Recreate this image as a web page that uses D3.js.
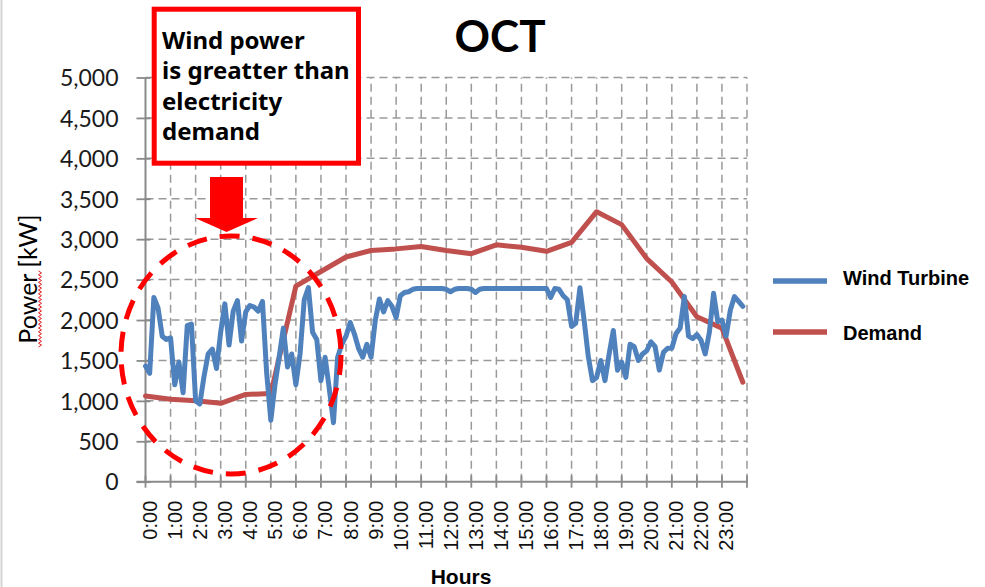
<!DOCTYPE html>
<html>
<head>
<meta charset="utf-8">
<script src="https://cdn.jsdelivr.net/npm/d3@7"></script>
<style>
  html, body { margin: 0; padding: 0; background: #ffffff; }
  svg { display: block; }
</style>
</head>
<body>
<svg id="chart" width="985" height="587"></svg>
<script>
// ---------- data ----------
const hourLabels = ["0:00","1:00","2:00","3:00","4:00","5:00","6:00","7:00","8:00","9:00","10:00","11:00",
  "12:00","13:00","14:00","15:00","16:00","17:00","18:00","19:00","20:00","21:00","22:00","23:00"];

// wind turbine output, 10-minute steps (0:00 .. 23:50), kW
const windPower = [
  1430,1340,2280,2150,1800,1760,1780,1200,1480,1100,1930,1950,
  1000,960,1300,1580,1640,1400,1850,2200,1690,2110,2240,1740,
  2100,2180,2160,2110,2230,1350,760,1200,1540,1900,1420,1580,
  1200,1580,2250,2400,1850,1760,1250,1540,1150,730,1540,1700,
  1800,1970,1830,1650,1540,1700,1540,1990,2260,2100,2240,2170,
  2030,2300,2340,2350,2380,2390,2390,2390,2390,2390,2390,2390,
  2380,2350,2380,2390,2390,2390,2380,2340,2380,2390,2390,2390,
  2390,2390,2390,2390,2390,2390,2390,2390,2390,2390,2390,2390,
  2390,2280,2390,2380,2300,2250,1920,1960,2400,2000,1550,1250,
  1290,1500,1250,1580,1870,1380,1480,1290,1700,1670,1500,1580,
  1620,1730,1670,1380,1600,1650,1650,1830,1900,2290,1800,1770,
  1820,1750,1580,1850,2330,1980,2000,1800,2120,2290,2230,2170
];

// electricity demand, hourly (last point 23:50), kW
const demandHours  = [0,1,2,3,4,5,6,7,8,9,10,11,12,13,14,15,16,17,18,19,20,21,22,23,23.8333];
const demandValues = [1060,1020,1000,970,1080,1090,2420,2600,2780,2860,2880,2910,2860,2820,2930,2900,2850,2960,3340,3180,2760,2470,2040,1900,1230];

const yTicks = [0,500,1000,1500,2000,2500,3000,3500,4000,4500,5000];
const seriesNames = ["Wind Turbine","Demand"];
const seriesColors = ["#4F81BD","#C0504D"];
const annotationLines = ["Wind power","is greatter than","electricity","demand"];

// ---------- layout ----------
const svg = d3.select("#chart");
const X0 = 145.5, X1 = 747, Y0 = 481.7, Y1 = 77.5;
const x = d3.scaleLinear().domain([0,144]).range([X0, X1]);   // 10-minute steps
const y = d3.scaleLinear().domain([0,5000]).range([Y0, Y1]);

// frame line at left edge
svg.append("line").attr("x1",1.5).attr("x2",1.5).attr("y1",0).attr("y2",587)
  .attr("stroke","#d4d4d4").attr("stroke-width",2);

// grid
const grid = svg.append("g");
grid.selectAll("line.h").data(yTicks.slice(1)).enter().append("line")
  .attr("x1",X0).attr("x2",X1).attr("y1",d=>y(d)).attr("y2",d=>y(d))
  .attr("stroke","#9a9a9a").attr("stroke-width",1.5).attr("stroke-dasharray","8,5");
grid.selectAll("line.v").data(d3.range(1,25)).enter().append("line")
  .attr("x1",d=>x(d*6)).attr("x2",d=>x(d*6)).attr("y1",Y0).attr("y2",Y1)
  .attr("stroke","#9a9a9a").attr("stroke-width",1.5).attr("stroke-dasharray","8,5");

// y axis
const yAxis = d3.axisLeft(y).tickValues(yTicks).tickFormat(d3.format(",")).tickSize(0).tickPadding(0);
const gy = svg.append("g").attr("transform",`translate(${X0},0)`).call(yAxis);
gy.select(".domain").remove();
gy.selectAll("text").attr("x",-27).attr("dy","0.36em")
  .style("font-family","Lato, 'Open Sans', sans-serif").style("font-size","23px").attr("fill","#1a1a1a");
gy.selectAll(".tick").append("line").attr("x1",-9).attr("x2",5).attr("stroke","#8a8a8a").attr("stroke-width",1.8);
svg.append("line").attr("x1",X0).attr("x2",X0).attr("y1",Y1).attr("y2",Y0)
  .attr("stroke","#8a8a8a").attr("stroke-width",2);

// x axis
const xAxis = d3.axisBottom(x).tickValues(d3.range(0,24).map(h=>h*6))
  .tickFormat((d,i)=>hourLabels[i]).tickSize(0).tickPadding(0);
const gx = svg.append("g").attr("transform",`translate(0,${Y0})`).call(xAxis);
gx.select(".domain").remove();
gx.selectAll("text").attr("text-anchor","end").attr("y",0).attr("dy",0)
  .attr("transform","translate(11,19) rotate(-90)")
  .style("font-family","'Liberation Sans', Arial, sans-serif").style("font-size","20px").attr("fill","#111");
svg.append("g").selectAll("line").data(d3.range(0,25)).enter().append("line")
  .attr("x1",d=>x(d*6)).attr("x2",d=>x(d*6)).attr("y1",Y0-6).attr("y2",Y0+6)
  .attr("stroke","#8a8a8a").attr("stroke-width",1.8);
svg.append("line").attr("x1",X0-9).attr("x2",X1).attr("y1",Y0).attr("y2",Y0)
  .attr("stroke","#8a8a8a").attr("stroke-width",2);

// series
const line = d3.line().curve(d3.curveLinear);
svg.append("path")
  .attr("d", line(demandHours.map((h,i)=>[x(h*6), y(demandValues[i])])))
  .attr("fill","none").attr("stroke",seriesColors[1]).attr("stroke-width",5)
  .attr("stroke-linejoin","round").attr("stroke-linecap","round");
svg.append("path")
  .attr("d", line(windPower.map((v,i)=>[x(i), y(v)])))
  .attr("fill","none").attr("stroke",seriesColors[0]).attr("stroke-width",5)
  .attr("stroke-linejoin","round").attr("stroke-linecap","round");

// titles
svg.append("text").attr("x",500).attr("y",52).attr("text-anchor","middle")
  .style("font-family","Lato, sans-serif").style("font-weight","700").style("font-size","44px")
  .attr("fill","#000").text("OCT");
svg.append("text").attr("transform","translate(37,279) rotate(-90)").attr("text-anchor","middle")
  .style("font-family","Lato, sans-serif").style("font-size","25px").attr("fill","#000").text("Power [kW]");
// spell-check squiggle under "Power"
{
  const pts = [];
  for (let k = 0; k <= 40; k++) pts.push([40 + (k % 2 ? 1.5 : -1.5), 347 - k * 1.9]);
  svg.append("path").attr("d", d3.line()(pts)).attr("fill","none").attr("stroke","#e02020").attr("stroke-width",1);
}
svg.append("text").attr("x",461).attr("y",584).attr("text-anchor","middle")
  .style("font-family","'Liberation Sans', Arial, sans-serif").style("font-weight","700").style("font-size","21px")
  .attr("fill","#000").text("Hours");

// legend
const legY = [281, 332];
const legTextY = [285, 340];
seriesNames.forEach((name,i)=>{
  svg.append("line").attr("x1",773).attr("x2",827).attr("y1",legY[i]).attr("y2",legY[i])
    .attr("stroke",seriesColors[i]).attr("stroke-width",5.5);
  svg.append("text").attr("x",843).attr("y",legTextY[i])
    .style("font-family","'Liberation Sans', Arial, sans-serif").style("font-weight","700").style("font-size","20px")
    .attr("fill","#000").text(name);
});

// annotation box
svg.append("rect").attr("x",154.2).attr("y",9.2).attr("width",204.3).attr("height",154)
  .attr("fill","#fff").attr("stroke","#FF0000").attr("stroke-width",5);
const at = svg.append("text").style("font-family","'Noto Sans', 'Open Sans', sans-serif")
  .style("font-weight","700").style("font-size","24px").attr("fill","#000");
annotationLines.forEach((t,i)=>{
  at.append("tspan").attr("x",162).attr("y",48.5 + i*30.5).text(t);
});

// arrow
svg.append("path").attr("d","M210,177 L243,177 L243,218 L258,218 L226.5,232 L195,218 L210,218 Z")
  .attr("fill","#FF0000");

// dashed ellipse
svg.append("ellipse").attr("cx",231).attr("cy",355).attr("rx",110).attr("ry",119)
  .attr("fill","none").attr("stroke","#FF0000").attr("stroke-width",5).attr("stroke-dasharray","20,13");
</script>
</body>
</html>
